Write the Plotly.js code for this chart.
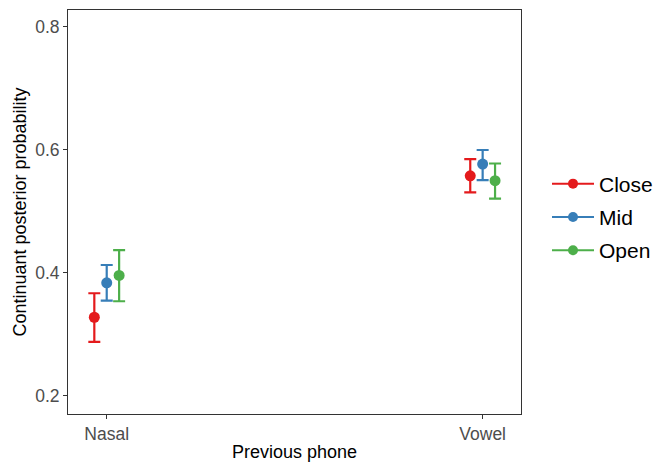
<!DOCTYPE html>
<html>
<head>
<meta charset="utf-8">
<script src="https://cdn.plot.ly/plotly-3.0.1.min.js"></script>
<style>html,body{margin:0;padding:0;background:#fff;}#chart{width:654px;height:462px;}</style>
</head>
<body>
<div id="chart"></div>
<script>
const categories = ["Nasal", "Vowel"];
const groups = ["Close", "Mid", "Open"];
const colors = ["#E41A1C", "#377EB8", "#4DAF4A"];
// posterior means and 95% interval bounds per group, per category
const closeMean = [0.328, 0.558];
const closeLow  = [0.288, 0.531];
const closeHigh = [0.367, 0.585];
const midMean   = [0.384, 0.577];
const midLow    = [0.355, 0.551];
const midHigh   = [0.413, 0.600];
const openMean  = [0.396, 0.550];
const openLow   = [0.354, 0.521];
const openHigh  = [0.437, 0.578];
const yTicks = [0.2, 0.4, 0.6, 0.8];

const means = [closeMean, midMean, openMean];
const lows = [closeLow, midLow, openLow];
const highs = [closeHigh, midHigh, openHigh];
const dodge = [-0.033, 0, 0.033];

const traces = [];
groups.forEach((g, i) => {
  const xs = categories.map((c, j) => j + dodge[i]);
  traces.push({
    type: 'scatter', mode: 'markers', name: g, showlegend: false,
    x: xs, y: means[i],
    marker: {color: colors[i], size: 11},
    error_y: {
      type: 'data', symmetric: false,
      array: means[i].map((m, j) => highs[i][j] - m),
      arrayminus: means[i].map((m, j) => m - lows[i][j]),
      color: colors[i], thickness: 2.2, width: 6
    },
    hoverinfo: 'skip'
  });
});
groups.forEach((g, i) => {
  traces.push({
    type: 'scatter', mode: 'lines+markers', name: g, showlegend: true,
    legendgroup: g,
    x: [null], y: [null],
    line: {color: colors[i], width: 2},
    marker: {color: colors[i], size: 10}
  });
});

const layout = {
  width: 654, height: 462,
  margin: {l: 68, r: 133, t: 10, b: 48, autoexpand: false},
  paper_bgcolor: '#fff', plot_bgcolor: '#fff',
  font: {family: 'Liberation Sans, Arial, sans-serif'},
  showlegend: true,
  legend: {
    xref: 'container', x: 0.8364, xanchor: 'left', y: 0.4876, yanchor: 'middle',
    font: {size: 21, color: '#000'},
    tracegroupgap: 3, itemwidth: 42
  },
  xaxis: {
    range: [-0.103, 1.102],
    tickmode: 'array', tickvals: categories.map((c, j) => j), ticktext: categories,
    showgrid: false, zeroline: false,
    showline: true, mirror: true, linecolor: '#333', linewidth: 1,
    ticks: 'outside', ticklen: 4, tickcolor: '#333', tickwidth: 1,
    tickfont: {size: 17.5, color: '#4D4D4D'},
    title: {text: 'Previous phone', font: {size: 18, color: '#000'}, standoff: 6}
  },
  yaxis: {
    range: [0.1707, 0.8276],
    tickmode: 'array', tickvals: yTicks, ticktext: yTicks.map(v => v.toFixed(1)),
    showgrid: false, zeroline: false,
    showline: true, mirror: true, linecolor: '#333', linewidth: 1,
    ticks: 'outside', ticklen: 4, tickcolor: '#333', tickwidth: 1,
    tickfont: {size: 17.5, color: '#4D4D4D'},
    title: {text: 'Continuant posterior probability', font: {size: 18, color: '#000'}, standoff: 3}
  }
};

Plotly.newPlot('chart', traces, layout, {displayModeBar: false, staticPlot: true});
</script>
</body>
</html>
